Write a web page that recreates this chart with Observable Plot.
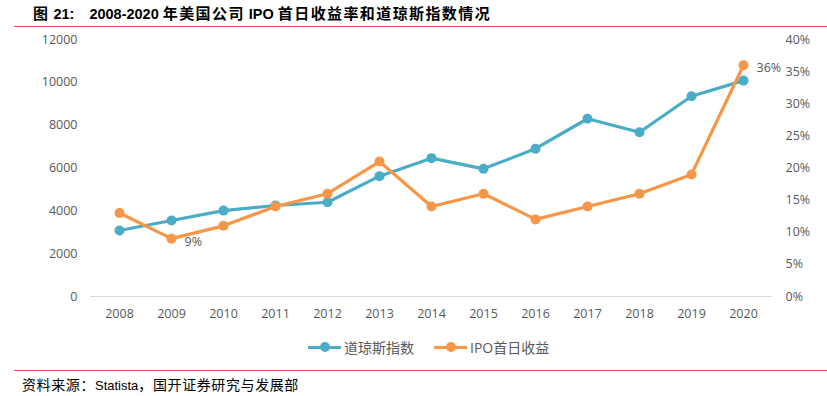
<!DOCTYPE html>
<html><head><meta charset="utf-8">
<script src="https://cdn.jsdelivr.net/npm/d3@7"></script>
<script src="https://cdn.jsdelivr.net/npm/@observablehq/plot@0.6"></script>
<style>
body{margin:0;width:827px;height:396px;background:#fff;position:relative;overflow:hidden;font-family:"Open Sans",sans-serif;}
#title{position:absolute;left:14px;top:0;width:813px;height:26px;border-bottom:1.5px solid #d9505a;font:bold 14.5px "Liberation Sans","Noto Sans CJK SC",sans-serif;color:#000;line-height:25px;}
#title > span{position:absolute;left:19px;white-space:pre;}
.cj{font-size:15px;letter-spacing:1.4px;font-family:"Noto Sans CJK SC",sans-serif;}
#chart{position:absolute;left:0;top:28px;}
#legend{position:absolute;top:337px;left:0;width:827px;height:20px;font:14px "Open Sans","Noto Sans CJK SC",sans-serif;color:#595959;}
.li{position:absolute;top:0;display:flex;align-items:center;height:20px;}
.sw{position:relative;width:33px;height:20px;margin-right:3px;}
.sw .ln{position:absolute;left:0;top:8.5px;width:33px;height:3px;}
.sw .dt{position:absolute;left:11.5px;top:5px;width:10px;height:10px;border-radius:50%;}
#foot{position:absolute;left:14px;top:370px;width:813px;border-top:1.5px solid #d9505a;font:13px "Liberation Sans","Noto Sans CJK SC",sans-serif;color:#000;}
#foot > span{position:absolute;left:8px;top:3px;white-space:pre;}
.fc{font-size:14px;letter-spacing:0.6px;font-family:"Noto Sans CJK SC",sans-serif;}
</style></head>
<body>
<div id="title"><span><span class="cj">图</span> 21:<span style="display:inline-block;width:15px"></span>2008-2020 <span class="cj">年美国公司</span> IPO <span class="cj">首日收益率和道琼斯指数情况</span></span></div>
<div id="chart"></div>
<div id="legend">
  <div class="li" style="left:308px"><div class="sw"><div class="ln" style="background:#4BACC6"></div><div class="dt" style="background:#4BACC6"></div></div>道琼斯指数</div>
  <div class="li" style="left:434px"><div class="sw"><div class="ln" style="background:#F79646"></div><div class="dt" style="background:#F79646"></div></div>IPO首日收益</div>
</div>
<div id="foot"><span><span class="fc">资料来源：</span>Statista<span class="fc">，国开证券研究与发展部</span></span></div>
<script>
const years = [2008,2009,2010,2011,2012,2013,2014,2015,2016,2017,2018,2019,2020];
const dow = [3080,3550,4010,4250,4400,5620,6460,5960,6900,8300,7670,9350,10080];
const ipo = [13,9,11,14,16,21,14,16,12,14,16,19,36];
const leftTicks = [0,2000,4000,6000,8000,10000,12000];
const rightTicks = [0,5,10,15,20,25,30,35,40];
const labeled = [{year:2009, v:9}, {year:2020, v:36}];

const k = 12000/40;
const dowData = years.map((y,i)=>({year:String(y), v:dow[i]}));
const ipoData = years.map((y,i)=>({year:String(y), v:ipo[i]*k}));
const labData = labeled.map(d=>({year:String(d.year), v:d.v*k, t:d.v+"%"}));

const blue = "#4BACC6", orange = "#F79646";
const chart = Plot.plot({
  width: 827, height: 302,
  marginTop: 11, marginBottom: 34, marginLeft: 90, marginRight: 55,
  style: {fontFamily: "Open Sans, sans-serif", fontSize: "12.5px", color: "#595959", background: "transparent"},
  x: {type: "point", domain: years.map(String), padding: 0.5, label: null},
  y: {domain: [0, 12000], label: null},
  marks: [
    Plot.axisX({tickSize: 0, tickPadding: 13, label: null, fill: "#595959"}),
    Plot.axisY({anchor: "left", ticks: leftTicks, tickFormat: d => String(d), tickSize: 0, tickPadding: 13, label: null, fill: "#595959"}),
    Plot.axisY({anchor: "right", ticks: rightTicks.map(d=>d*k), tickFormat: d => Math.round(d/k) + "%", tickSize: 0, tickPadding: 13, label: null, fill: "#595959", textAnchor: "start"}),
    Plot.ruleY([0], {stroke: "#d9d9d9", strokeWidth: 1}),
    Plot.line(dowData, {x: "year", y: "v", stroke: blue, strokeWidth: 3.2}),
    Plot.dot(dowData, {x: "year", y: "v", fill: blue, r: 5}),
    Plot.line(ipoData, {x: "year", y: "v", stroke: orange, strokeWidth: 3.2}),
    Plot.dot(ipoData, {x: "year", y: "v", fill: orange, r: 5}),
    Plot.text(labData, {x: "year", y: "v", text: "t", textAnchor: "start", dx: 13, dy: 3, fill: "#595959", fontSize: 12.5})
  ]
});
document.getElementById("chart").appendChild(chart);
</script>
</body></html>
